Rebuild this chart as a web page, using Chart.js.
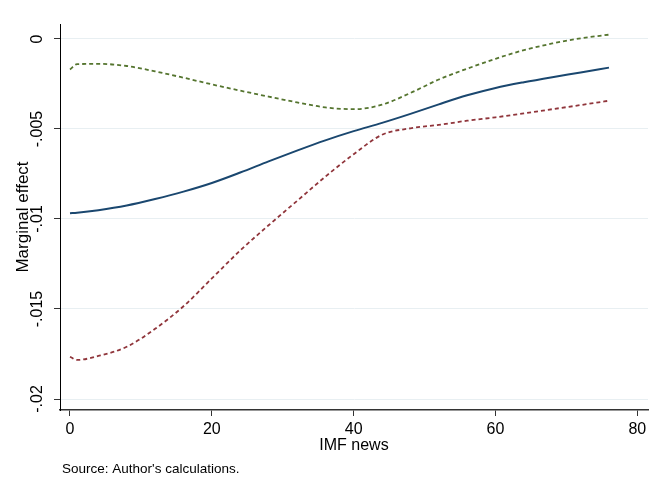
<!DOCTYPE html>
<html>
<head>
<meta charset="utf-8">
<script src="https://cdn.jsdelivr.net/npm/chart.js@4"></script>
<style>
  body { margin: 0; background: #fff; }
  canvas { display: block; }
</style>
</head>
<body>
<canvas id="marginalChart" width="656" height="477"></canvas>
<script>
// IMF news values where the curves were read
const imfNews = [0, 1, 4, 8, 12, 16, 20, 24, 28, 32, 36, 40, 44, 48, 52, 56, 60, 64, 68, 72, 76];

// marginal effect and its confidence bounds
const effect = [-0.00968, -0.00965, -0.00951, -0.00925, -0.00889, -0.00848, -0.00800, -0.00742, -0.00680, -0.00620, -0.00563,
                -0.00512, -0.00466, -0.00416, -0.00363, -0.00313, -0.00272, -0.00240, -0.00212, -0.00186, -0.00159];
const upperBound = [-0.00169, -0.00140, -0.00138, -0.00150, -0.00180, -0.00215, -0.00252, -0.00287, -0.00320, -0.00352, -0.00380,
                    -0.00390, -0.00365, -0.00300, -0.00225, -0.00165, -0.00110, -0.00062, -0.00025, 0.00004, 0.00024];
const lowerBound = [-0.01765, -0.01783, -0.01761, -0.01710, -0.01610, -0.01485, -0.01330, -0.01175, -0.01035, -0.00900, -0.00765,
                    -0.00640, -0.00532, -0.00496, -0.00477, -0.00454, -0.00435, -0.00413, -0.00390, -0.00367, -0.00343];

const xTicks = [0, 20, 40, 60, 80];
const yTicks = [-0.02, -0.015, -0.01, -0.005, 0];
const yTickLabels = ['-.02', '-.015', '-.01', '-.005', '0'];

const FONT = 'Liberation Sans, Arial, sans-serif';

function toPoints(values) {
    return imfNews.map((x, i) => ({ x: x, y: values[i] }));
}

/* ================= SOURCE NOTE ================= */
const sourceNote = {
    id: 'sourceNote',
    afterDraw(chart) {
        const ctx = chart.ctx;
        ctx.save();
        ctx.font = '13.5px ' + FONT;
        ctx.fillStyle = '#000';
        ctx.textAlign = 'left';
        ctx.textBaseline = 'alphabetic';
        ctx.fillText("Source: Author's calculations.", 62, 473);
        ctx.restore();
    }
};

new Chart(document.getElementById('marginalChart'), {
    type: 'line',
    data: {
        datasets: [
            {
                label: 'upper',
                data: toPoints(upperBound),
                borderColor: '#55752f',
                borderWidth: 1.8,
                borderDash: [4, 3],
                pointRadius: 0,
                cubicInterpolationMode: 'monotone',
                fill: false
            },
            {
                label: 'effect',
                data: toPoints(effect),
                borderColor: '#1a476f',
                borderWidth: 2,
                pointRadius: 0,
                cubicInterpolationMode: 'monotone',
                fill: false
            },
            {
                label: 'lower',
                data: toPoints(lowerBound),
                borderColor: '#90353b',
                borderWidth: 1.8,
                borderDash: [4, 3],
                pointRadius: 0,
                cubicInterpolationMode: 'monotone',
                fill: false
            }
        ]
    },
    options: {
        responsive: false,
        animation: false,
        layout: { padding: { top: 24, right: 8, bottom: 22, left: 0 } },
        plugins: {
            legend: { display: false },
            tooltip: { enabled: false }
        },
        scales: {
            x: {
                type: 'linear',
                min: -1.41,
                max: 81.5,
                afterBuildTicks(scale) {
                    scale.ticks = xTicks.map(v => ({ value: v }));
                },
                afterFit(scale) { scale.height = 45; },
                border: { display: true, color: '#333', width: 1.5 },
                grid: { drawOnChartArea: false, drawTicks: true, tickLength: 6, tickColor: '#333', tickWidth: 1 },
                ticks: { color: '#000', font: { family: FONT, size: 16 }, padding: 4, maxRotation: 0 },
                title: {
                    display: true,
                    text: 'IMF news',
                    color: '#000',
                    font: { family: FONT, size: 16 },
                    padding: { top: 0, bottom: 0 }
                }
            },
            y: {
                type: 'linear',
                min: -0.020611,
                max: 0.000833,
                afterBuildTicks(scale) {
                    scale.ticks = yTicks.map(v => ({ value: v }));
                },
                afterFit(scale) { scale.width = 60; },
                border: { display: true, color: '#000', width: 1 },
                grid: { color: '#e8eff2', lineWidth: 1, drawTicks: true, tickLength: 6, tickColor: '#333', tickWidth: 1 },
                ticks: {
                    color: '#000',
                    font: { family: FONT, size: 16 },
                    minRotation: 90,
                    maxRotation: 90,
                    crossAlign: 'center',
                    padding: -2,
                    callback: function (value) {
                        const i = yTicks.findIndex(t => Math.abs(t - value) < 1e-9);
                        return i >= 0 ? yTickLabels[i] : '';
                    }
                },
                title: {
                    display: true,
                    text: 'Marginal effect',
                    color: '#000',
                    font: { family: FONT, size: 17 },
                    padding: { top: 13, bottom: 0 }
                }
            }
        }
    },
    plugins: [sourceNote]
});
</script>
</body>
</html>
